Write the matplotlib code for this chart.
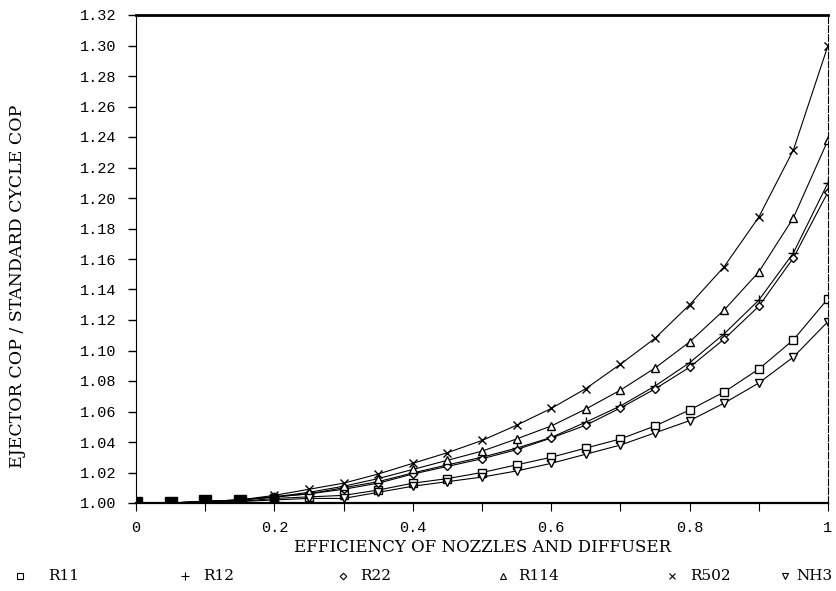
import matplotlib
matplotlib.use("Agg")
import matplotlib.pyplot as plt
from matplotlib.lines import Line2D

efficiency = [0.00, 0.05, 0.10, 0.15, 0.20, 0.25, 0.30, 0.35, 0.40, 0.45, 0.50,
              0.55, 0.60, 0.65, 0.70, 0.75, 0.80, 0.85, 0.90, 0.95, 1.00]

r11 = [1.000, 1.000, 1.001, 1.001, 1.003, 1.004, 1.005, 1.0085, 1.013, 1.016, 1.020,
       1.025, 1.030, 1.036, 1.042, 1.0505, 1.061, 1.0728, 1.0878, 1.107, 1.134]
r12 = [1.000, 1.000, 1.001, 1.002, 1.004, 1.006, 1.010, 1.014, 1.0197, 1.025, 1.030,
       1.036, 1.043, 1.053, 1.0636, 1.0767, 1.092, 1.111, 1.133, 1.164, 1.210]
r22 = [1.000, 1.000, 1.001, 1.002, 1.004, 1.006, 1.009, 1.013, 1.019, 1.024, 1.029,
       1.035, 1.0426, 1.051, 1.0623, 1.0748, 1.089, 1.1075, 1.129, 1.1607, 1.204]
r114 = [1.000, 1.000, 1.001, 1.002, 1.004, 1.007, 1.011, 1.016, 1.022, 1.028, 1.034,
        1.042, 1.0505, 1.0616, 1.074, 1.0885, 1.1056, 1.1266, 1.1515, 1.187, 1.238]
r502 = [1.000, 1.000, 1.001, 1.002, 1.005, 1.009, 1.013, 1.019, 1.026, 1.033, 1.041,
        1.051, 1.062, 1.075, 1.091, 1.108, 1.130, 1.155, 1.1875, 1.2315, 1.300]
nh3 = [1.000, 1.000, 1.000, 1.001, 1.002, 1.003, 1.003, 1.007, 1.011, 1.014, 1.017,
       1.021, 1.026, 1.032, 1.038, 1.046, 1.054, 1.0655, 1.0787, 1.0957, 1.119]

series_names = ["R11", "R12", "R22", "R114", "R502", "NH3"]
series_values = [r11, r12, r22, r114, r502, nh3]
markers = ["s", "+", "D", "^", "x", "v"]
msizes = [6, 7, 4.5, 6, 6, 6]

yticks = [1.00 + 0.02 * i for i in range(17)]
xtick_major = [0, 0.2, 0.4, 0.6, 0.8, 1.0]
xtick_labels = ["0", "0.2", "0.4", "0.6", "0.8", "1"]

mono = ["Liberation Mono", "DejaVu Sans Mono"]
serif = ["DejaVu Serif"]

W, H = 837, 591
fig = plt.figure(figsize=(8.37, 5.91), dpi=100)
ax = fig.add_axes([136 / W, 1 - 503 / H, (828 - 136) / W, (503 - 15) / H])

for name, vals, mk, ms in zip(series_names, series_values, markers, msizes):
    ax.plot(efficiency, vals, color="black", lw=0.8, marker=mk, ms=ms,
            mfc="white" if mk not in ("+", "x") else "black", mec="black", mew=1.0)

# overlapping markers near the origin read as filled black squares
ax.plot(efficiency[:4], r11[:4], ls="none", marker="s", ms=8, color="black")
ax.plot(efficiency[4:5], r11[4:5], ls="none", marker="s", ms=6, color="black")

ax.set_xlim(0, 1.0)
ax.set_ylim(1.00, 1.32)
ax.set_yticks(yticks)
ax.set_yticklabels([f"{v:.2f}" for v in yticks], fontfamily=mono, fontsize=11)
ax.set_xticks(xtick_major)
ax.set_xticklabels(xtick_labels, fontfamily=mono, fontsize=11)
ax.set_xticks([0.1, 0.3, 0.5, 0.7, 0.9], minor=True)
ax.tick_params(axis="y", direction="out", length=6, width=1.0, pad=8)
ax.tick_params(axis="x", which="both", direction="out", length=6, width=0.8, pad=7)

ax.spines["top"].set_linewidth(2.0)
ax.spines["bottom"].set_linewidth(1.6)
ax.spines["left"].set_linewidth(0.8)
ax.spines["right"].set_linewidth(0.8)
ax.spines["right"].set_linestyle((0, (6, 2)))

fig.text(483 / W, 1 - 548 / H, "EFFICIENCY OF NOZZLES AND DIFFUSER",
         ha="center", va="center", fontfamily=serif, fontsize=12)
fig.text(18 / W, 1 - 286 / H, "EJECTOR COP / STANDARD CYCLE COP", rotation=90,
         ha="center", va="center", fontfamily=serif, fontsize=12.5)

# legend row along the bottom
leg_marker_x = [20, 185, 343, 503, 672, 785]
leg_text_x = [48, 203, 360, 518, 690, 832]
leg_ha = ["left", "left", "left", "left", "left", "right"]
leg_y = 1 - 576 / H
for name, mk, ms, mxp, txp, ha in zip(series_names, markers, msizes, leg_marker_x,
                                      leg_text_x, leg_ha):
    fig.add_artist(Line2D([mxp / W], [leg_y], ls="none", marker=mk, ms=ms * 0.75,
                          color="black", mfc="white" if mk not in ("+", "x") else "black",
                          mew=0.8, transform=fig.transFigure))
    fig.text(txp / W, leg_y, name, ha=ha, va="center", fontfamily=serif, fontsize=11)

fig.savefig("out.png", dpi=100)
